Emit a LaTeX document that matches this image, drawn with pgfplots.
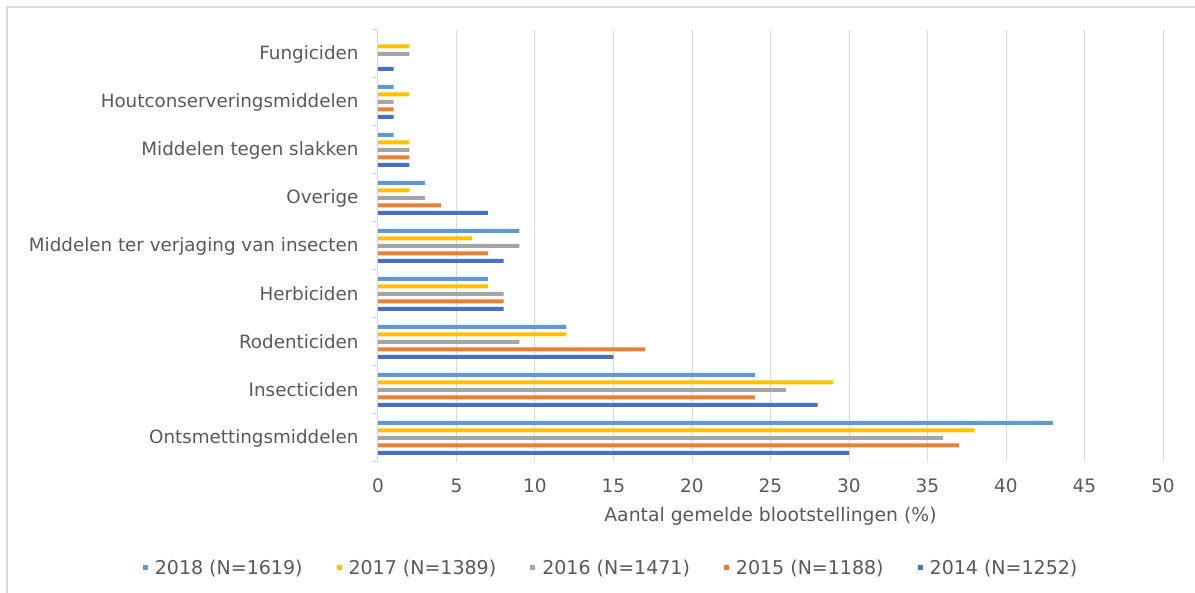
\documentclass[border=0pt]{standalone}
\usepackage{fontspec}
\usepackage{pgfplots}
\pgfplotsset{compat=1.18}
\setmainfont{DejaVu Sans}

\definecolor{c2018}{HTML}{5B9BD5}
\definecolor{c2017}{HTML}{FFC000}
\definecolor{c2016}{HTML}{A5A5A5}
\definecolor{c2015}{HTML}{ED7D31}
\definecolor{c2014}{HTML}{4472C4}
\definecolor{txt}{HTML}{595959}
\definecolor{gridc}{HTML}{D9D9D9}

\begin{document}
\begin{tikzpicture}
\path[use as bounding box] (0,0) rectangle (1195pt,593pt);
\draw[gridc, line width=1.2pt] (7pt,0) -- (7pt,586pt) -- (1195pt,586pt);
\begin{axis}[
  at={(378pt,131pt)}, anchor=south west,
  scale only axis, width=785pt, height=432pt,
  xmin=0, xmax=50, ymin=-0.5, ymax=8.5,
  xtick={0,5,...,50},
  ytick={0,...,8},
  yticklabels={Ontsmettingsmiddelen,Insecticiden,Rodenticiden,Herbiciden,Middelen ter verjaging van insecten,Overige,Middelen tegen slakken,Houtconserveringsmiddelen,Fungiciden},
  minor ytick={-0.5,0.5,...,8.5},
  axis lines*=left,
  axis line style={-},
  x axis line style={draw=none},
  y axis line style={draw=gridc, line width=1pt},
  major tick length=0pt,
  minor tick length=5pt,
  tick align=outside,
  minor tick style={draw=gridc, line width=1pt},
  xmajorgrids,
  grid style={draw=gridc, line width=1pt},
  /pgf/number format/assume math mode=true,
  xticklabel style={font=\fontsize{18.5}{22}\selectfont, text=txt, yshift=-13pt},
  yticklabel style={font=\fontsize{18.3}{22}\selectfont, text=txt, xshift=-16pt},
  xlabel={Aantal gemelde blootstellingen (\%)},
  xlabel style={font=\fontsize{18.8}{22}\selectfont, text=txt, yshift=-8pt},
  xbar, bar width=4pt,
  every axis plot/.append style={draw=none},
  legend columns=5,
  legend style={at={(axis description cs:0.297,-0.245)}, anchor=center, draw=none,
    font=\fontsize{19}{22}\selectfont, text=txt,
    /tikz/every odd column/.append style={column sep=5pt},
    /tikz/every even column/.append style={column sep=32pt}},
  legend image code/.code={\fill[#1] (0pt,-2.5pt) rectangle (5pt,2.5pt);},
]
\addplot[fill=c2018, bar shift=15pt] coordinates {(43,0) (24,1) (12,2) (7,3) (9,4) (3,5) (1,6) (1,7) (0,8)};
\addplot[fill=c2017, bar shift=7.5pt] coordinates {(38,0) (29,1) (12,2) (7,3) (6,4) (2,5) (2,6) (2,7) (2,8)};
\addplot[fill=c2016, bar shift=0pt] coordinates {(36,0) (26,1) (9,2) (8,3) (9,4) (3,5) (2,6) (1,7) (2,8)};
\addplot[fill=c2015, bar shift=-7.5pt] coordinates {(37,0) (24,1) (17,2) (8,3) (7,4) (4,5) (2,6) (1,7) (0,8)};
\addplot[fill=c2014, bar shift=-15pt] coordinates {(30,0) (28,1) (15,2) (8,3) (8,4) (7,5) (2,6) (1,7) (1,8)};
\legend{2018 (N=1619),2017 (N=1389),2016 (N=1471),2015 (N=1188),2014 (N=1252)}
\end{axis}
\end{tikzpicture}
\end{document}
